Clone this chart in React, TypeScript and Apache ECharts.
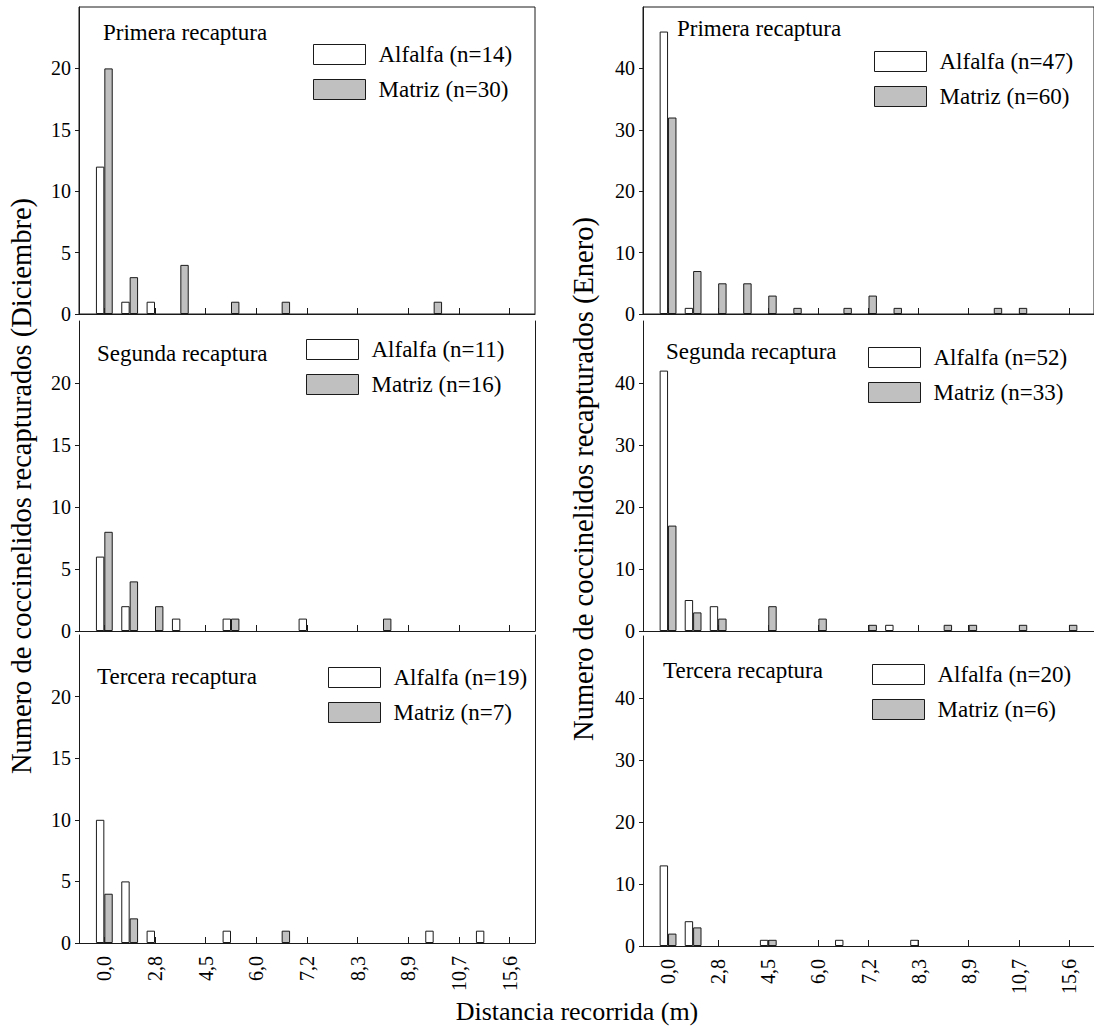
import React, { useEffect, useRef } from "react";
import * as echarts from "echarts";

// ---------- data ----------
// 17 distance bins; only every second bin carries a label in the figure
const binLabels = ["0,0", "", "2,8", "", "4,5", "", "6,0", "", "7,2", "", "8,3", "", "8,9", "", "10,7", "", "15,6"];

// Diciembre
const dicPrimeraAlfalfa = [12, 1, 1, 0, 0, 0, 0, 0, 0, 0, 0, 0, 0, 0, 0, 0, 0];
const dicPrimeraMatriz = [20, 3, 0, 4, 0, 1, 0, 1, 0, 0, 0, 0, 0, 1, 0, 0, 0];
const dicSegundaAlfalfa = [6, 2, 0, 1, 0, 1, 0, 0, 1, 0, 0, 0, 0, 0, 0, 0, 0];
const dicSegundaMatriz = [8, 4, 2, 0, 0, 1, 0, 0, 0, 0, 0, 1, 0, 0, 0, 0, 0];
const dicTerceraAlfalfa = [10, 5, 1, 0, 0, 1, 0, 0, 0, 0, 0, 0, 0, 1, 0, 1, 0];
const dicTerceraMatriz = [4, 2, 0, 0, 0, 0, 0, 1, 0, 0, 0, 0, 0, 0, 0, 0, 0];

// Enero
const enePrimeraAlfalfa = [46, 1, 0, 0, 0, 0, 0, 0, 0, 0, 0, 0, 0, 0, 0, 0, 0];
const enePrimeraMatriz = [32, 7, 5, 5, 3, 1, 0, 1, 3, 1, 0, 0, 0, 1, 1, 0, 0];
const eneSegundaAlfalfa = [42, 5, 4, 0, 0, 0, 0, 0, 0, 1, 0, 0, 0, 0, 0, 0, 0];
const eneSegundaMatriz = [17, 3, 2, 0, 4, 0, 2, 0, 1, 0, 0, 1, 1, 0, 1, 0, 1];
const eneTerceraAlfalfa = [13, 4, 0, 0, 1, 0, 0, 1, 0, 0, 1, 0, 0, 0, 0, 0, 0];
const eneTerceraMatriz = [2, 3, 0, 0, 1, 0, 0, 0, 0, 0, 0, 0, 0, 0, 0, 0, 0];

const nAlfalfa = [14, 11, 19, 47, 52, 20];
const nMatriz = [30, 16, 7, 60, 33, 6];
const panelTitles = ["Primera recaptura", "Segunda recaptura", "Tercera recaptura", "Primera recaptura", "Segunda recaptura", "Tercera recaptura"];
const yTicksDic = [0, 5, 10, 15, 20];
const yTicksEne = [0, 10, 20, 30, 40];

const xTitle = "Distancia recorrida (m)";
const yTitleDic = "Numero de coccinelidos recapturados (Diciembre)";
const yTitleEne = "Numero de coccinelidos recapturados (Enero)";

// ---------- layout / style ----------
const FONT = "Liberation Serif";
const LINE = "#1a1a1a";
const GRAY = "#c0c0c0";

const layout = [
  { grid: { left: 79, top: 7, width: 456, height: 307 }, yMax: 25, yStep: 5, ticks: yTicksDic, title: [103, 32.5], legend: [313, 43], topBorder: true, xLabels: false, alf: dicPrimeraAlfalfa, mat: dicPrimeraMatriz },
  { grid: { left: 79, top: 321, width: 456, height: 310 }, yMax: 25, yStep: 5, ticks: yTicksDic, title: [97, 353], legend: [306, 338], topBorder: false, xLabels: false, alf: dicSegundaAlfalfa, mat: dicSegundaMatriz },
  { grid: { left: 79, top: 635, width: 456, height: 308 }, yMax: 25, yStep: 5, ticks: yTicksDic, title: [97, 676], legend: [328, 666], topBorder: false, xLabels: true, alf: dicTerceraAlfalfa, mat: dicTerceraMatriz },
  { grid: { left: 643, top: 7, width: 456, height: 307 }, yMax: 50, yStep: 10, ticks: yTicksEne, title: [677, 28.5], legend: [874, 50], topBorder: true, xLabels: false, alf: enePrimeraAlfalfa, mat: enePrimeraMatriz },
  { grid: { left: 643, top: 321, width: 456, height: 310 }, yMax: 50, yStep: 10, ticks: yTicksEne, title: [666, 351.5], legend: [868, 346], topBorder: false, xLabels: false, alf: eneSegundaAlfalfa, mat: eneSegundaMatriz },
  { grid: { left: 643, top: 636, width: 456, height: 310 }, yMax: 50, yStep: 10, ticks: yTicksEne, title: [663, 670], legend: [872, 663], topBorder: false, xLabels: true, alf: eneTerceraAlfalfa, mat: eneTerceraMatriz },
];

function buildOption() {
  const categories = ["", ...binLabels, ""];
  const grids: any[] = [];
  const xAxes: any[] = [];
  const yAxes: any[] = [];
  const series: any[] = [];
  const legends: any[] = [];
  const graphics: any[] = [];

  layout.forEach((p, i) => {
    grids.push({ ...p.grid, show: p.topBorder, borderColor: LINE, borderWidth: 1, backgroundColor: "transparent" });
    xAxes.push({
      type: "category",
      gridIndex: i,
      data: categories,
      boundaryGap: false,
      axisLine: { show: true, lineStyle: { color: LINE, width: 1 } },
      axisTick: {
        show: true,
        inside: true,
        length: 6,
        interval: (idx: number) => idx >= 1 && idx <= 17 && (idx - 1) % 2 === 0,
        lineStyle: { color: LINE, width: 1 },
      },
      axisLabel: { show: p.xLabels, interval: 0, rotate: 90, margin: 13, fontSize: 20, fontFamily: FONT, color: "#000" },
      splitLine: { show: false },
    });
    const yIdx = yAxes.length;
    yAxes.push({
      type: "value",
      gridIndex: i,
      min: 0,
      max: p.yMax,
      interval: p.yStep,
      axisLine: { show: true, lineStyle: { color: LINE, width: 1 } },
      axisTick: { show: true, length: 4, customValues: p.ticks, lineStyle: { color: LINE, width: 1 } },
      axisLabel: { customValues: p.ticks, margin: 8, fontSize: 20, fontFamily: FONT, color: "#000" },
      splitLine: { show: false },
    });
    if (!p.topBorder) {
      yAxes.push({
        type: "value",
        gridIndex: i,
        position: "right",
        min: 0,
        max: p.yMax,
        axisLine: { show: true, lineStyle: { color: LINE, width: 1 } },
        axisTick: { show: false },
        axisLabel: { show: false },
        splitLine: { show: false },
      });
    }
    const nameA = `Alfalfa (n=${nAlfalfa[i]})`;
    const nameM = `Matriz (n=${nMatriz[i]})`;
    const toData = (arr: number[]) => ["-", ...arr.map((v) => (v > 0 ? v : "-")), "-"];
    series.push({
      type: "bar",
      name: nameA,
      xAxisIndex: i,
      yAxisIndex: yIdx,
      data: toData(p.alf),
      barWidth: 8.4,
      barGap: "0%",
      itemStyle: { color: "#ffffff", borderColor: LINE, borderWidth: 1 },
    });
    series.push({
      type: "bar",
      name: nameM,
      xAxisIndex: i,
      yAxisIndex: yIdx,
      data: toData(p.mat),
      barWidth: 8.4,
      barGap: "0%",
      itemStyle: { color: GRAY, borderColor: LINE, borderWidth: 1 },
    });
    legends.push({
      data: [nameA, nameM],
      orient: "vertical",
      left: p.legend[0],
      top: p.legend[1],
      padding: 0,
      itemWidth: 52,
      itemHeight: 20,
      itemGap: 12,
      icon: "rect",
      selectedMode: false,
      itemStyle: { borderColor: LINE, borderWidth: 1 },
      textStyle: { fontSize: 23, fontFamily: FONT, color: "#000", padding: [0, 0, 0, 8] },
    });
    graphics.push({
      type: "text",
      x: p.title[0],
      y: p.title[1],
      style: { text: panelTitles[i], fontSize: 23, fontFamily: FONT, fill: "#000", align: "left", verticalAlign: "middle" },
    });
  });

  graphics.push({
    type: "text",
    x: 21,
    y: 486,
    rotation: Math.PI / 2,
    style: { text: yTitleDic, fontSize: 28.5, fontFamily: FONT, fill: "#000", align: "center", verticalAlign: "middle" },
  });
  graphics.push({
    type: "text",
    x: 583,
    y: 479,
    rotation: Math.PI / 2,
    style: { text: yTitleEne, fontSize: 28.5, fontFamily: FONT, fill: "#000", align: "center", verticalAlign: "middle" },
  });
  graphics.push({
    type: "text",
    x: 577,
    y: 1011,
    style: { text: xTitle, fontSize: 26, fontFamily: FONT, fill: "#000", align: "center", verticalAlign: "middle" },
  });

  return {
    animation: false,
    backgroundColor: "#ffffff",
    textStyle: { fontFamily: FONT },
    grid: grids,
    xAxis: xAxes,
    yAxis: yAxes,
    legend: legends,
    series,
    graphic: graphics,
  };
}

export default function App() {
  const ref = useRef<HTMLDivElement>(null);
  useEffect(() => {
    if (!ref.current) return;
    const chart = echarts.init(ref.current, null, { renderer: "svg" });
    chart.setOption(buildOption() as any);
    return () => chart.dispose();
  }, []);
  return <div ref={ref} style={{ position: "absolute", left: 0, top: 0, width: 1094, height: 1030 }} />;
}
